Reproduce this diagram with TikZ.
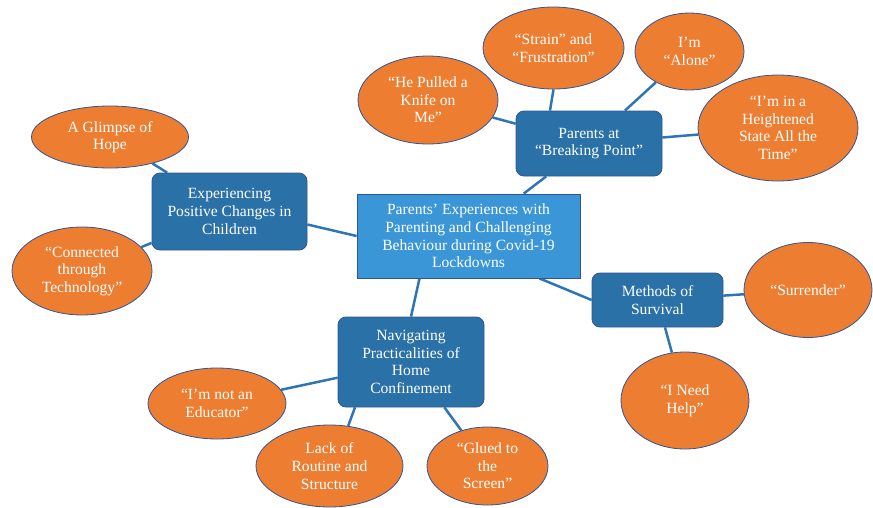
\documentclass[tikz,border=0pt]{standalone}
\usepackage{fontspec}
\setmainfont{Liberation Serif}
\usetikzlibrary{shapes.geometric,backgrounds}
\definecolor{CoreClr}{RGB}{58,150,215}
\definecolor{ThemeClr}{RGB}{42,113,168}
\definecolor{OvalClr}{RGB}{237,125,49}
\definecolor{LinkClr}{RGB}{46,117,182}
\definecolor{RimClr}{RGB}{47,85,151}

\tikzset{
  coreBox/.style={draw=RimClr,line width=0.8,fill=CoreClr,text=white,align=center,
    minimum width=223,minimum height=84,inner sep=2},
  themeBox/.style={draw=RimClr,line width=0.8,fill=ThemeClr,text=white,align=center,
    rounded corners=8,inner sep=2},
  quoteOval/.style={ellipse,draw=RimClr,line width=0.8,fill=OvalClr,text=white,
    align=center,inner sep=0},
  link/.style={draw=LinkClr,line width=2.5}
}

\begin{document}
\begin{tikzpicture}[x=1pt,y=-1pt,font=\fontsize{15.6}{17.6}\selectfont]
\useasboundingbox (0,0) rectangle (873,507);

% centre
\node[coreBox] (core) at (468.5,236)
  {Parents’ Experiences with\\Parenting and Challenging\\Behaviour during Covid-19\\Lockdowns};

% themes
\node[themeBox,minimum width=155,minimum height=77] (exper) at (229.5,211.5)
  {Experiencing\\Positive Changes in\\Children};
\node[themeBox,minimum width=146,minimum height=65] (breaking) at (589,143.5)
  {Parents at\\“Breaking Point”};
\node[themeBox,minimum width=131,minimum height=54] (methods) at (657.5,300)
  {Methods of\\Survival};
\node[themeBox,minimum width=146,minimum height=90] (navig) at (411,362)
  {Navigating\\Practicalities of\\Home\\Confinement};

% sub-themes
\node[quoteOval,minimum width=157,minimum height=62] (glimpse) at (110,137)
  {A Glimpse of\\Hope};
\node[quoteOval,minimum width=140,minimum height=88] (connect) at (82,271)
  {“Connected\\through\\Technology”};
\node[quoteOval,minimum width=140,minimum height=88] (knife) at (428,100)
  {“He Pulled a\\Knife on\\Me”};
\node[quoteOval,minimum width=141,minimum height=82] (strain) at (553.5,48)
  {“Strain” and\\“Frustration”};
\node[quoteOval,minimum width=109,minimum height=77] (alone) at (689.5,51.5)
  {I’m\\“Alone”};
\node[quoteOval,minimum width=160,minimum height=106] (height) at (778,128)
  {“I’m in a\\Heightened\\State All the\\Time”};
\node[quoteOval,minimum width=128,minimum height=95] (surrender) at (808,290)
  {“Surrender”};
\node[quoteOval,minimum width=128,minimum height=97] (help) at (685,400.5)
  {“I Need\\Help”};
\node[quoteOval,minimum width=138,minimum height=71] (educ) at (217,403.5)
  {“I’m not an\\Educator”};
\node[quoteOval,minimum width=147,minimum height=82] (lack) at (329.5,466)
  {Lack of\\Routine and\\Structure};
\node[quoteOval,minimum width=121,minimum height=78] (glued) at (487.5,466)
  {“Glued to\\the\\Screen”};

% connectors
\begin{scope}[on background layer]
\draw[link] ([yshift=-13]exper.east) -- (core.west);
\draw[link] (core) -- (breaking);
\draw[link] ([xshift=71]core.south) -- (methods.west);
\draw[link] ([xshift=-49]core.south) -- (navig.north);
\draw[link] (exper) -- (glimpse);
\draw[link] (exper) -- (connect);
\draw[link] (breaking) -- (knife);
\draw[link] ([xshift=-39]breaking.north) -- (strain.south);
\draw[link] (breaking) -- (alone);
\draw[link] (breaking) -- (height);
\draw[link] (methods) -- (surrender);
\draw[link] (methods) -- (help);
\draw[link] (navig) -- (educ);
\draw[link] ([xshift=-56]navig.south) -- (lack.65);
\draw[link] (navig) -- (glued);
\end{scope}

\end{tikzpicture}
\end{document}
